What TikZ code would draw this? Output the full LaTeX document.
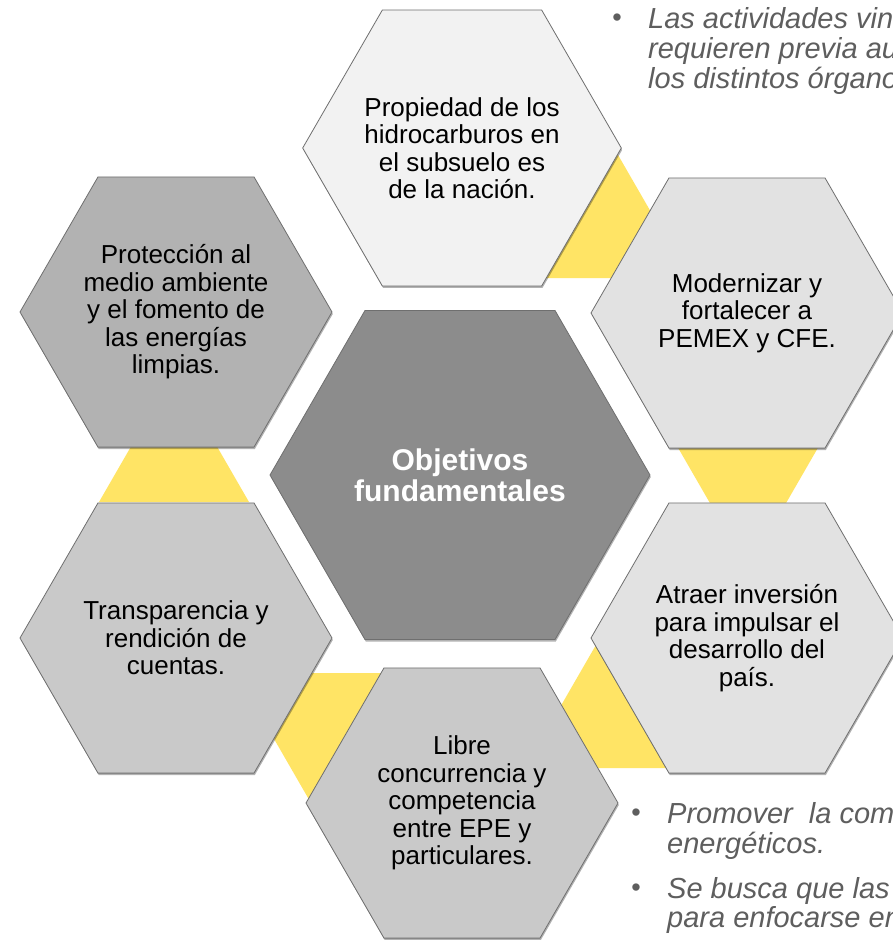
\documentclass[tikz,border=0pt]{standalone}
\usepackage{fontspec}
\setmainfont{Liberation Sans}
\usetikzlibrary{shapes.geometric,shadows}
\definecolor{cTop}{HTML}{F2F2F2}
\definecolor{cLight}{HTML}{E2E2E2}
\definecolor{cMid}{HTML}{C9C9C9}
\definecolor{cDark}{HTML}{B2B2B2}
\definecolor{cCenter}{HTML}{8C8C8C}
\definecolor{hexline}{HTML}{6F6F6F}
\definecolor{yel}{HTML}{FFE465}
\definecolor{bultext}{HTML}{5E5E5E}
\begin{document}
\begin{tikzpicture}[x=1pt,y=-1pt,
  hexbox/.style={regular polygon, regular polygon sides=6, minimum size=312pt,
    inner sep=0pt, draw=hexline, line width=0.8pt,
    drop shadow={shadow xshift=0.8pt, shadow yshift=-2pt, opacity=0.3, fill=black},
    font=\fontsize{26}{27.5}\selectfont, align=center, text=black},
  centerbox/.style={hexbox, minimum size=380pt, text=white,
    font=\fontsize{30}{31}\selectfont\bfseries},
  connector/.style={fill=yel, draw=none},
  bul/.style={font=\fontsize{27}{30}\selectfont, text=bultext, inner sep=0pt, anchor=base},
  bultxt/.style={font=\fontsize{29}{30}\selectfont\itshape, text=bultext, inner sep=0pt, anchor=base west}]
\useasboundingbox (0,0) rectangle (893,940);
\clip (0,0) rectangle (893,940);
\fill[white] (0,0) rectangle (893,940);

% yellow connectors (behind the hexagons)
\fill[connector] (614,148) -- (539,278) -- (689,278) -- cycle;
\fill[connector] (673,439) -- (823,439) -- (748,569) -- cycle;
\fill[connector] (600,638) -- (525,768) -- (675,768) -- cycle;
\fill[connector] (236,673) -- (386,673) -- (311,803) -- cycle;
\fill[connector] (174,372) -- (99,502) -- (249,502) -- cycle;

% hexagons
\node[hexbox, fill=cTop] (top) at (462,148) {Propiedad de los\\hidrocarburos en\\el subsuelo es\\de la nación.};
\node[hexbox, fill=cLight] (tr) at (747,313) {Modernizar y\\fortalecer a\\PEMEX y CFE.};
\node[hexbox, fill=cLight] (br) at (747,638) {Atraer inversión\\para impulsar el\\desarrollo del\\país.};
\node[hexbox, fill=cMid] (bot) at (462,803) {Libre\\concurrencia y\\competencia\\entre EPE y\\particulares.};
\node[hexbox, fill=cMid] (bl) at (176,638) {Transparencia y\\rendición de\\cuentas.};
\node[hexbox, fill=cDark] (tl) at (176,312) {Protección al\\medio ambiente\\y el fomento de\\las energías\\limpias.};
\node[centerbox, fill=cCenter] (ctr) at (460,475) {Objetivos\\fundamentales};

% bullet texts
\node[bul] (b1) at (617,26) {•};
\node[bultxt] (t1a) at (648,28) {Las actividades vin};
\node[bultxt] (t1b) at (648,58) {requieren previa au};
\node[bultxt] (t1c) at (648,88) {los distintos órgano};

\node[bul] (b2) at (636,821) {•};
\node[bultxt] (t2a) at (667,823) {Promover\ \ la com};
\node[bultxt] (t2b) at (667,853) {energéticos.};
\node[bul] (b3) at (636,896) {•};
\node[bultxt] (t3a) at (667,898) {Se busca que las};
\node[bultxt] (t3b) at (667,927) {para enfocarse en};
\end{tikzpicture}
\end{document}
